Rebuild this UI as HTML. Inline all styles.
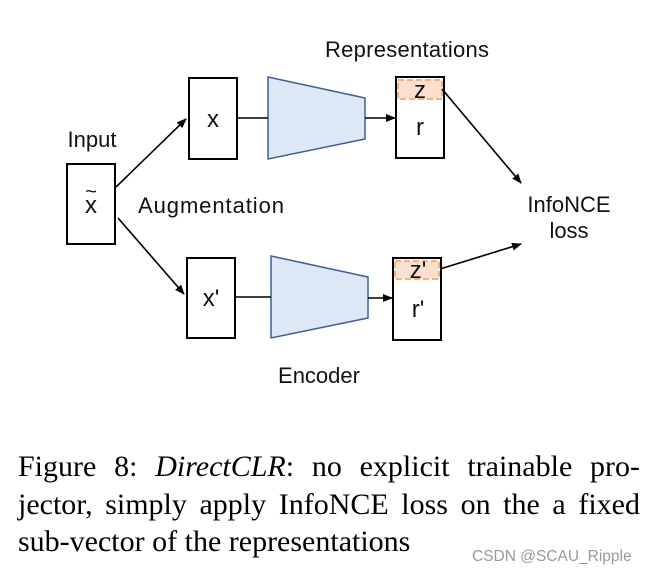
<!DOCTYPE html>
<html><head><meta charset="utf-8"><style>
body{margin:0;background:#fff;width:666px;height:577px;overflow:hidden}
.cap{position:absolute;left:18px;width:622px;font-family:"Liberation Serif",serif;font-size:30px;color:#000;white-space:nowrap;text-align:justify;text-align-last:justify}
</style></head><body>
<svg width="666" height="577" style="position:absolute;left:0;top:0" font-family="Liberation Sans, DejaVu Sans, sans-serif">
<defs><marker id="a" markerWidth="10" markerHeight="8" refX="9" refY="4" orient="auto" markerUnits="userSpaceOnUse"><path d="M0,0L10,4L0,8z" fill="#000"/></marker></defs>
<g fill="none" stroke="#000" stroke-width="2">
<rect x="67" y="164" width="48" height="80" fill="#fff"/>
<rect x="189" y="78" width="48" height="81" fill="#fff"/>
<rect x="187" y="258" width="48" height="80" fill="#fff"/>
<rect x="396" y="77" width="48" height="81" fill="#fff"/>
<rect x="393" y="258" width="48" height="82" fill="#fff"/>
</g>
<rect x="398" y="80" width="44" height="19" fill="#fbe0cf" stroke="#f4b183" stroke-width="2" stroke-dasharray="6,3"/>
<rect x="395" y="261" width="44" height="18" fill="#fbe0cf" stroke="#f4b183" stroke-width="2" stroke-dasharray="6,3"/>
<polygon points="268,77 365,98 365,139 268,159" fill="#dce8f5" stroke="#3f5f95" stroke-width="1.5"/>
<polygon points="271,256 368,277 368,318 271,338" fill="#dce8f5" stroke="#3f5f95" stroke-width="1.5"/>
<g stroke="#000" stroke-width="1.6" fill="none">
<line x1="116" y1="187" x2="186" y2="119" marker-end="url(#a)"/>
<line x1="118" y1="218" x2="184" y2="294" marker-end="url(#a)"/>
<line x1="237" y1="118" x2="268" y2="118"/>
<line x1="235" y1="297" x2="271" y2="297"/>
<line x1="365" y1="118" x2="395" y2="118" marker-end="url(#a)"/>
<line x1="368" y1="298" x2="392" y2="298" marker-end="url(#a)"/>
<line x1="442" y1="89" x2="521" y2="183" marker-end="url(#a)"/>
<line x1="440" y1="269" x2="521" y2="244" marker-end="url(#a)"/>
</g>
<g font-size="22" fill="#111">
<text x="407" y="57" text-anchor="middle" textLength="164">Representations</text>
<text x="92" y="147" text-anchor="middle">Input</text>
<text x="91" y="213" text-anchor="middle" font-size="24">x</text>
<text x="91" y="198" text-anchor="middle" font-size="20">~</text>
<text x="213" y="127" text-anchor="middle" font-size="24">x</text>
<text x="211" y="306" text-anchor="middle" font-size="24">x'</text>
<text x="211" y="213" text-anchor="middle" textLength="146">Augmentation</text>
<text x="420" y="98" text-anchor="middle" font-size="24">z</text>
<text x="420" y="135" text-anchor="middle" font-size="24">r</text>
<text x="418" y="278" text-anchor="middle" font-size="24">z'</text>
<text x="418" y="317" text-anchor="middle" font-size="24">r'</text>
<text x="569" y="212" text-anchor="middle">InfoNCE</text>
<text x="569" y="238" text-anchor="middle">loss</text>
<text x="319" y="383" text-anchor="middle">Encoder</text>
</g>
</svg>
<div class="cap" style="top:450px">Figure 8: <i>DirectCLR</i>: no explicit trainable pro-</div>
<div class="cap" style="top:488px">jector, simply apply InfoNCE loss on the a fixed</div>
<div class="cap" style="top:525px;text-align:left;text-align-last:left">sub-vector of the representations</div>
<div style="position:absolute;left:472px;top:548px;font-family:'Liberation Sans',sans-serif;font-size:15.5px;color:#999">CSDN @SCAU_Ripple</div>
</body></html>
